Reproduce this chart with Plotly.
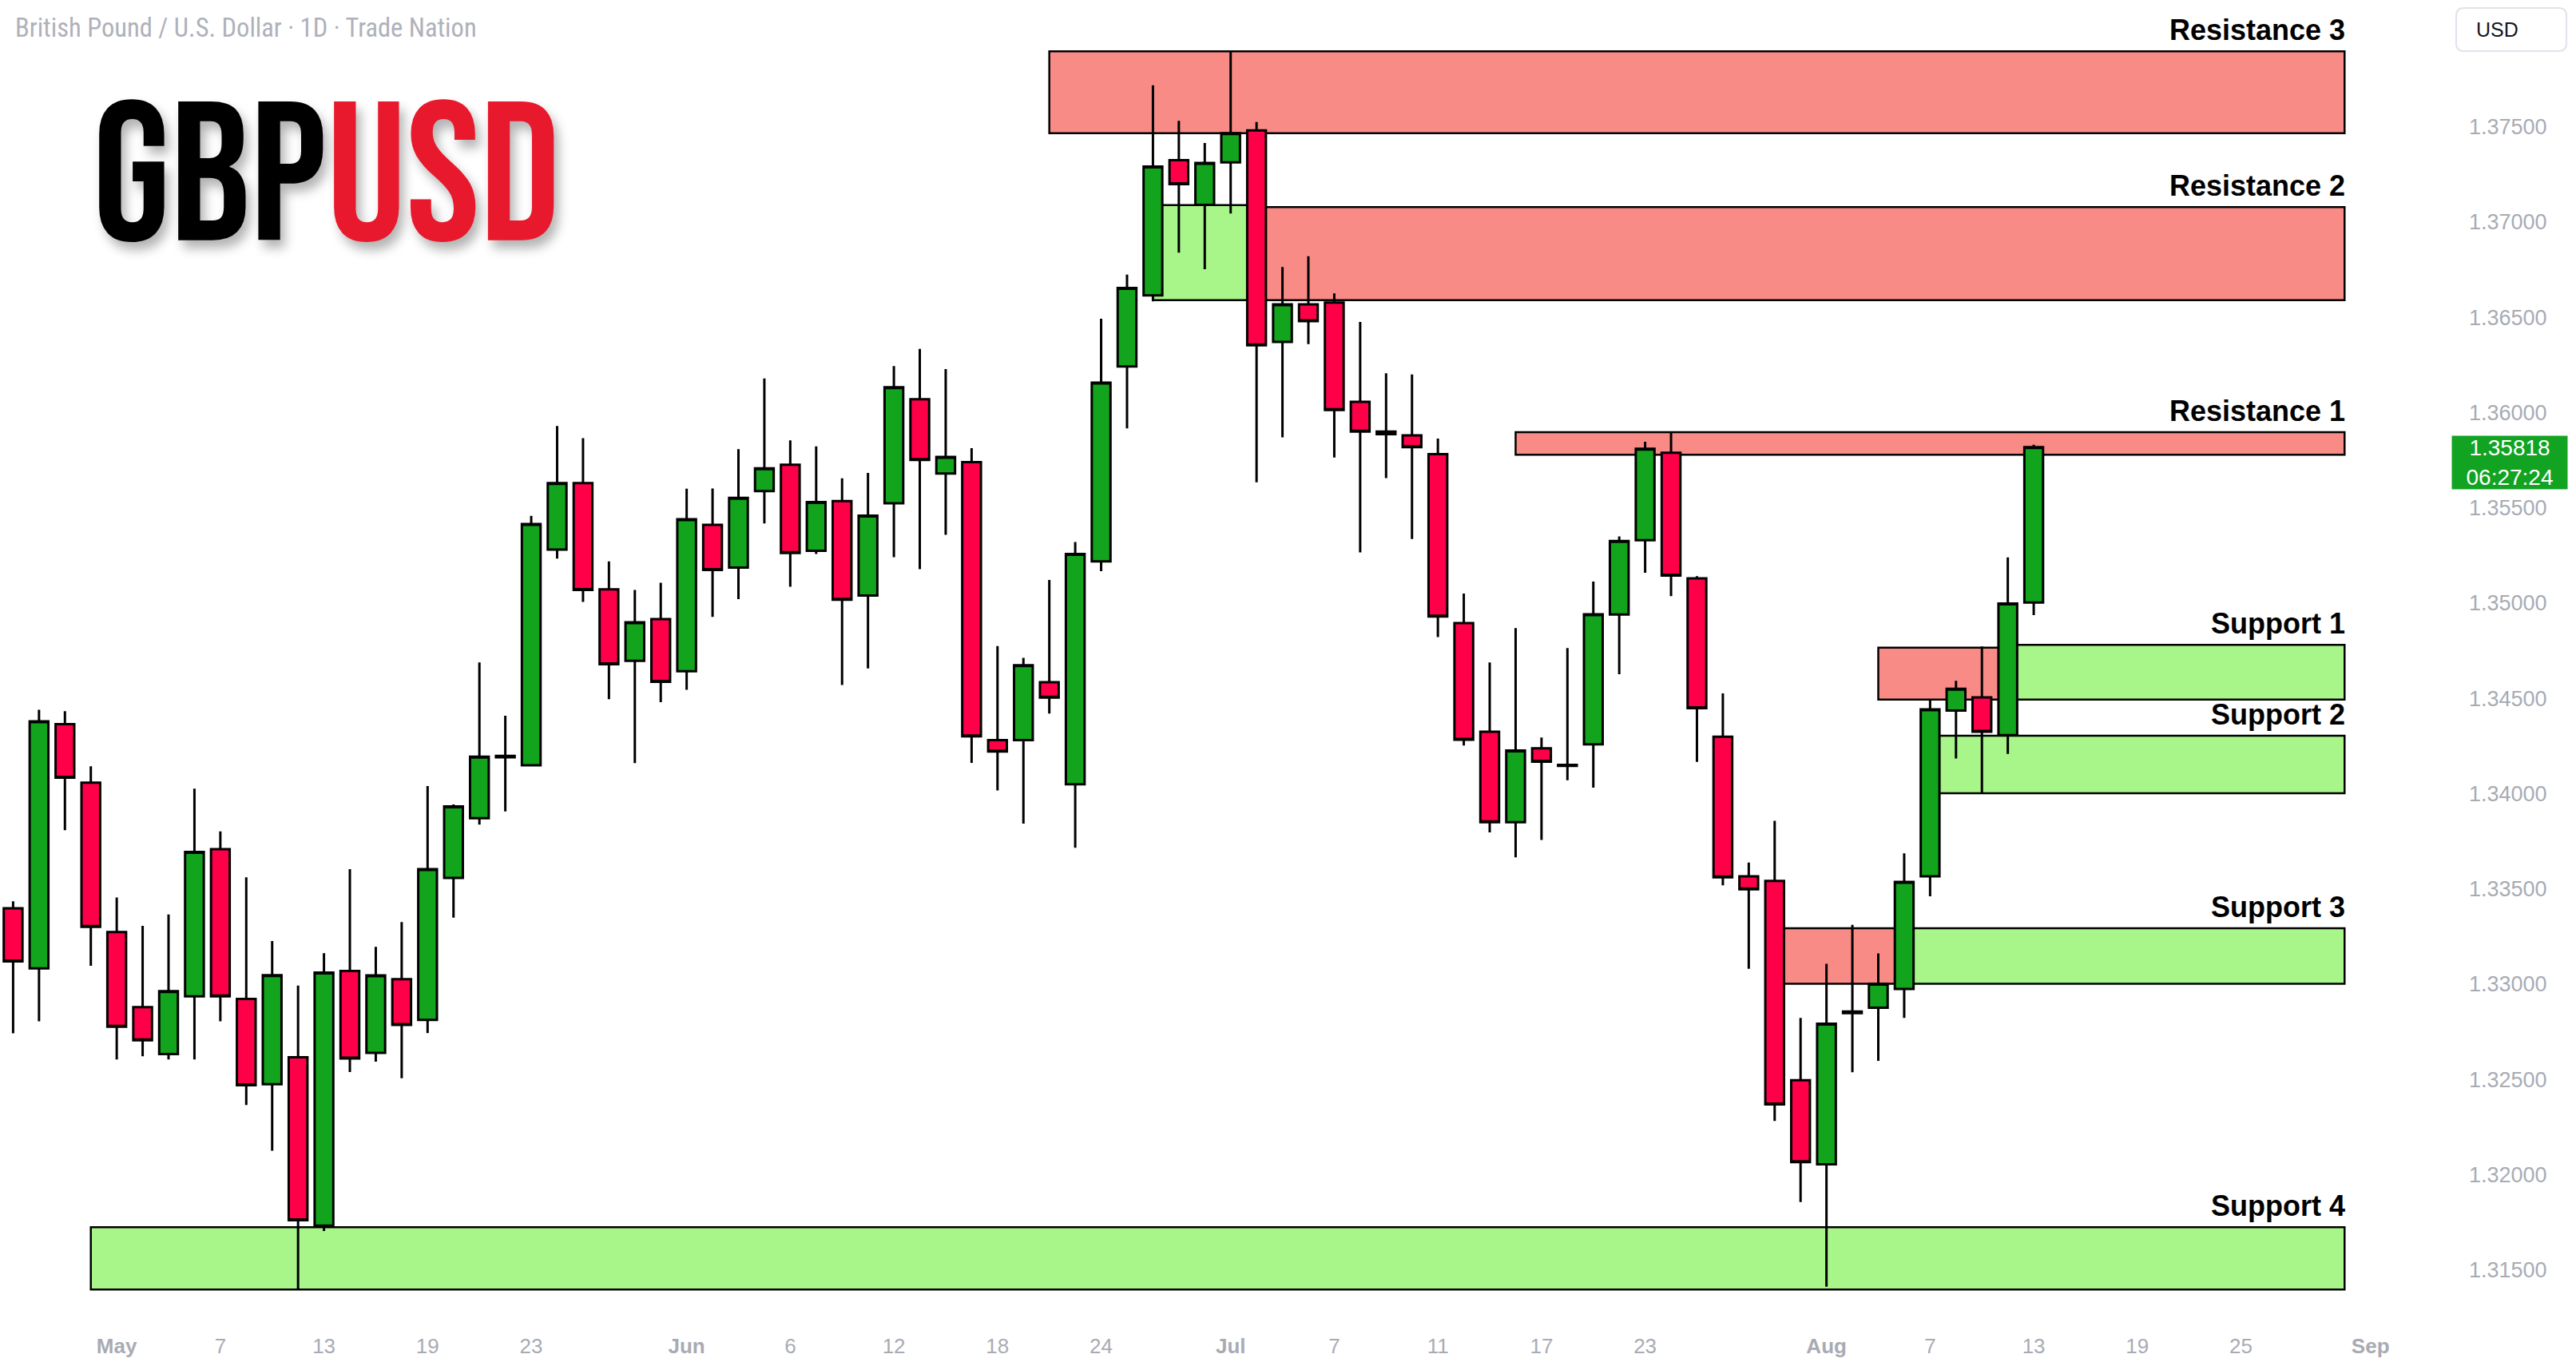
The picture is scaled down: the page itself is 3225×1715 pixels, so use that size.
import pandas as pd
import plotly.graph_objects as go

# ---------------- data ----------------
start_date = "2025-04-25"
end_date = "2025-08-13"
calendar_end = "2025-09-05"

opens = [1.33398, 1.33082, 1.34364, 1.34057, 1.33273, 1.32879, 1.32633, 1.32936, 1.33708, 1.32922,
         1.32475, 1.32616, 1.31732, 1.33069, 1.32639, 1.33026, 1.32812, 1.33557, 1.33871, 1.34190,
         1.34148, 1.35280, 1.35629, 1.35072, 1.34697, 1.34916, 1.34642, 1.35410, 1.35186, 1.35587,
         1.35726, 1.35274, 1.35535, 1.35039, 1.35524, 1.36070, 1.35680, 1.35740, 1.34281, 1.34281,
         1.34584, 1.34049, 1.35219, 1.36242, 1.36615, 1.37324, 1.37090, 1.37313, 1.37480, 1.36370,
         1.36568, 1.36577, 1.36056, 1.35900, 1.35880, 1.35781, 1.34895, 1.34325, 1.33850, 1.34238,
         1.34150, 1.34258, 1.34940, 1.35330, 1.35789, 1.35129, 1.34298, 1.33566, 1.33542, 1.32495,
         1.32054, 1.32848, 1.32876, 1.32975, 1.33566, 1.34436, 1.34505, 1.34307, 1.35003]
highs = [1.33435, 1.34440, 1.34432, 1.34143, 1.33455, 1.33306, 1.33365, 1.34026, 1.33802, 1.33560,
         1.33226, 1.32992, 1.33162, 1.33603, 1.33196, 1.33326, 1.34039, 1.33943, 1.34688, 1.34408,
         1.35458, 1.35929, 1.35865, 1.35219, 1.35069, 1.35106, 1.35600, 1.35601, 1.35808, 1.36179,
         1.35854, 1.35822, 1.35655, 1.35683, 1.36244, 1.36334, 1.36228, 1.35813, 1.34774, 1.34712,
         1.35121, 1.35320, 1.36492, 1.36724, 1.37717, 1.37531, 1.37414, 1.37894, 1.37525, 1.36764,
         1.36820, 1.36625, 1.36475, 1.36206, 1.36200, 1.35863, 1.35050, 1.34688, 1.34869, 1.34294,
         1.34764, 1.35113, 1.35350, 1.35846, 1.35897, 1.35141, 1.34526, 1.33638, 1.33857, 1.32822,
         1.33107, 1.33311, 1.33161, 1.33686, 1.34496, 1.34592, 1.34772, 1.35240, 1.35831]
lows = [1.32742, 1.32805, 1.33808, 1.33096, 1.32604, 1.32621, 1.32604, 1.32604, 1.32805, 1.32366,
        1.32126, 1.31400, 1.31704, 1.32538, 1.32593, 1.32506, 1.32743, 1.33349, 1.33837, 1.33906,
        1.34143, 1.35233, 1.35006, 1.34495, 1.34160, 1.34480, 1.34545, 1.34927, 1.35020, 1.35418,
        1.35085, 1.35257, 1.34570, 1.34657, 1.35241, 1.35178, 1.35358, 1.34161, 1.34016, 1.33842,
        1.34420, 1.33716, 1.35167, 1.35917, 1.36583, 1.36839, 1.36752, 1.37044, 1.35634, 1.35869,
        1.36359, 1.35764, 1.35266, 1.35656, 1.35336, 1.34821, 1.34252, 1.33796, 1.33665, 1.33756,
        1.34070, 1.34031, 1.34626, 1.35159, 1.35036, 1.34166, 1.33518, 1.33080, 1.32282, 1.31856,
        1.31412, 1.32537, 1.32597, 1.32822, 1.33461, 1.34184, 1.33999, 1.34208, 1.34937]
closes = [1.33119, 1.34379, 1.34083, 1.33300, 1.32776, 1.32705, 1.32963, 1.33694, 1.32936, 1.32469,
          1.33047, 1.31761, 1.33060, 1.32610, 1.33046, 1.32786, 1.33603, 1.33932, 1.34194, 1.34198,
          1.35415, 1.35629, 1.35069, 1.34679, 1.34899, 1.34587, 1.35440, 1.35173, 1.35552, 1.35707,
          1.35263, 1.35530, 1.35017, 1.35459, 1.36133, 1.35751, 1.35767, 1.34300, 1.34221, 1.34674,
          1.34504, 1.35257, 1.36157, 1.36653, 1.37291, 1.37199, 1.37310, 1.37466, 1.36353, 1.36568,
          1.36480, 1.36013, 1.35900, 1.35886, 1.35818, 1.34929, 1.34283, 1.33850, 1.34226, 1.34167,
          1.34145, 1.34941, 1.35326, 1.35810, 1.35144, 1.34448, 1.33560, 1.33497, 1.32369, 1.32066,
          1.32792, 1.32856, 1.33002, 1.33536, 1.34442, 1.34550, 1.34325, 1.34997, 1.35818]

tick_dates = ["2025-05-01", "2025-05-07", "2025-05-13", "2025-05-19", "2025-05-23",
              "2025-06-02", "2025-06-06", "2025-06-12", "2025-06-18", "2025-06-24",
              "2025-07-01", "2025-07-07", "2025-07-11", "2025-07-17", "2025-07-23",
              "2025-08-01", "2025-08-07", "2025-08-13", "2025-08-19", "2025-08-25", "2025-09-01"]
tick_labels = ["<b>May</b>", "7", "13", "19", "23", "<b>Jun</b>", "6", "12", "18", "24",
               "<b>Jul</b>", "7", "11", "17", "23", "<b>Aug</b>", "7", "13", "19", "25", "<b>Sep</b>"]
price_ticks = [1.315, 1.320, 1.325, 1.330, 1.335, 1.340, 1.345, 1.350, 1.355, 1.360,
               1.365, 1.370, 1.375]

zone_labels = ["Resistance 3", "Resistance 2", "Resistance 1", "Support 1", "Support 2", "Support 3", "Support 4"]
zone_starts = ["2025-06-20", "2025-07-02", "2025-07-16", "2025-08-12", "2025-08-07", "2025-08-06", "2025-04-30"]
zone_lows = [1.37466, 1.36590, 1.35778, 1.34493, 1.34002, 1.33002, 1.31397]
zone_highs = [1.37896, 1.37078, 1.35897, 1.34780, 1.34304, 1.33293, 1.31724]
zone_kinds = ["res", "res", "res", "sup", "sup", "sup", "sup"]
zone_end = "2025-08-29"

flip_starts = ["2025-06-26", "2025-08-05", "2025-07-30"]
flip_ends = ["2025-07-02", "2025-08-12", "2025-08-06"]
flip_lows = [1.36590, 1.34493, 1.33002]
flip_highs = [1.37088, 1.34766, 1.33293]
flip_kinds = ["sup", "res", "res"]

countdown = "06:27:24"

# ---------------- styles ----------------
W, H = 3225, 1715
PLOT_R = 160
PLOT_B = 60
UP = "#12a41c"
DOWN = "#ff0048"
ZONE = {"res": "#f98b86", "sup": "#a8f58a"}
AXIS_TXT = "#a8abb4"
SANS = "Liberation Sans, Arial, sans-serif"

cal = pd.bdate_range(start_date, calendar_end)
pos = {d.strftime("%Y-%m-%d"): i for i, d in enumerate(cal)}
dates = pd.bdate_range(start_date, end_date)
xs = [pos[d.strftime("%Y-%m-%d")] for d in dates]

fig = go.Figure()
fig.add_trace(go.Candlestick(
    x=xs, open=opens, high=highs, low=lows, close=closes,
    increasing=dict(line=dict(color="black", width=3), fillcolor=UP),
    decreasing=dict(line=dict(color="black", width=3), fillcolor=DOWN),
    whiskerwidth=0, hoverinfo="skip", showlegend=False,
))

shapes = []
annotations = []
for s, e, lo, hi, k in zip(flip_starts, flip_ends, flip_lows, flip_highs, flip_kinds):
    shapes.append(dict(type="rect", xref="x", yref="y", x0=pos[s], x1=pos[e], y0=lo, y1=hi,
                       fillcolor=ZONE[k], line=dict(color="black", width=2.5), layer="below"))
for name, s, lo, hi, k in zip(zone_labels, zone_starts, zone_lows, zone_highs, zone_kinds):
    shapes.append(dict(type="rect", xref="x", yref="y", x0=pos[s], x1=pos[zone_end], y0=lo, y1=hi,
                       fillcolor=ZONE[k], line=dict(color="black", width=2.5), layer="below"))
    annotations.append(dict(xref="x", yref="y", x=pos[zone_end], y=hi, text="<b>%s</b>" % name,
                            xanchor="right", yanchor="bottom", yshift=4, xshift=3, showarrow=False,
                            font=dict(family=SANS, size=36, color="black")))

# layout geometry
x_lo = -0.506
x_hi = 94.0
y_lo = 1.312262
y_hi = 1.381649
plot_w = W - PLOT_R
plot_h = H - PLOT_B

def px_x(px):
    return px / plot_w

def px_y(py):
    return 1 - py / plot_h

# title
annotations.append(dict(xref="paper", yref="paper", x=px_x(17), y=px_y(35), xanchor="left", yanchor="middle",
                        text="British Pound / U.S. Dollar · 1D · Trade Nation", showarrow=False,
                        font=dict(family="Roboto Condensed, Liberation Sans, sans-serif",
                                  size=32.5, color="#aeb1ba")))
# logo
annotations.append(dict(xref="paper", yref="paper", x=px_x(114), y=px_y(226), xanchor="left", yanchor="middle",
                        text="GBP<span style='color:#e8192c'>USD</span>", showarrow=False,
                        font=dict(family="Bebas Neue, Oswald, Roboto Condensed, sans-serif",
                                  size=248, color="black",
                                  shadow="6px 10px 14px rgba(0,0,0,0.30)")))

# last price box
annotations.append(dict(xref="paper", yref="y", x=px_x(3142), y=closes[-1], xanchor="center", yanchor="top",
                        yshift=15, text="%.5f<br>%s" % (closes[-1], countdown), showarrow=False,
                        bgcolor="#12a322", width=142, height=64, align="center",
                        font=dict(family=SANS, size=28, color="white")))
# USD box
r = 10
x0, x1, y0, y1 = 3075, 3213, 10, 64
path = ("M {a},{b} L {c},{b} Q {x1},{b} {x1},{d} L {x1},{e} Q {x1},{y1} {c},{y1} L {a},{y1} "
        "Q {x0},{y1} {x0},{e} L {x0},{d} Q {x0},{b} {a},{b} Z").format(
    a=px_x(x0 + r), b=px_y(y0), c=px_x(x1 - r), d=px_y(y0 + r), e=px_y(y1 - r),
    x0=px_x(x0), x1=px_x(x1), y1=px_y(y1))
shapes.append(dict(type="path", xref="paper", yref="paper", path=path, fillcolor="white",
                   line=dict(color="#e0e3eb", width=2)))
annotations.append(dict(xref="paper", yref="paper", x=px_x(3098), y=px_y(37), xanchor="left", yanchor="middle",
                        text="USD", showarrow=False,
                        font=dict(family=SANS, size=25, color="#131722")))

fig.update_layout(
    width=W, height=H, autosize=False,
    margin=dict(l=0, r=PLOT_R, t=0, b=PLOT_B, pad=0),
    paper_bgcolor="white", plot_bgcolor="white",
    showlegend=False, hovermode=False,
    boxgap=0.15, boxgroupgap=0.15,
    shapes=shapes, annotations=annotations,
    xaxis=dict(range=[x_lo, x_hi], rangeslider=dict(visible=False), showgrid=False, zeroline=False,
               showline=False, tickmode="array", tickvals=[pos[d] for d in tick_dates], ticktext=tick_labels,
               ticks="", ticklabelstandoff=12,
               tickfont=dict(family=SANS, size=26, color=AXIS_TXT)),
    yaxis=dict(range=[y_lo, y_hi], side="right", showgrid=False, zeroline=False, showline=False,
               tickmode="array", tickvals=price_ticks, ticktext=["%.5f" % v for v in price_ticks],
               ticks="", ticklabelstandoff=25,
               tickfont=dict(family=SANS, size=27, color=AXIS_TXT)),
)

fig.write_html("out.html")
